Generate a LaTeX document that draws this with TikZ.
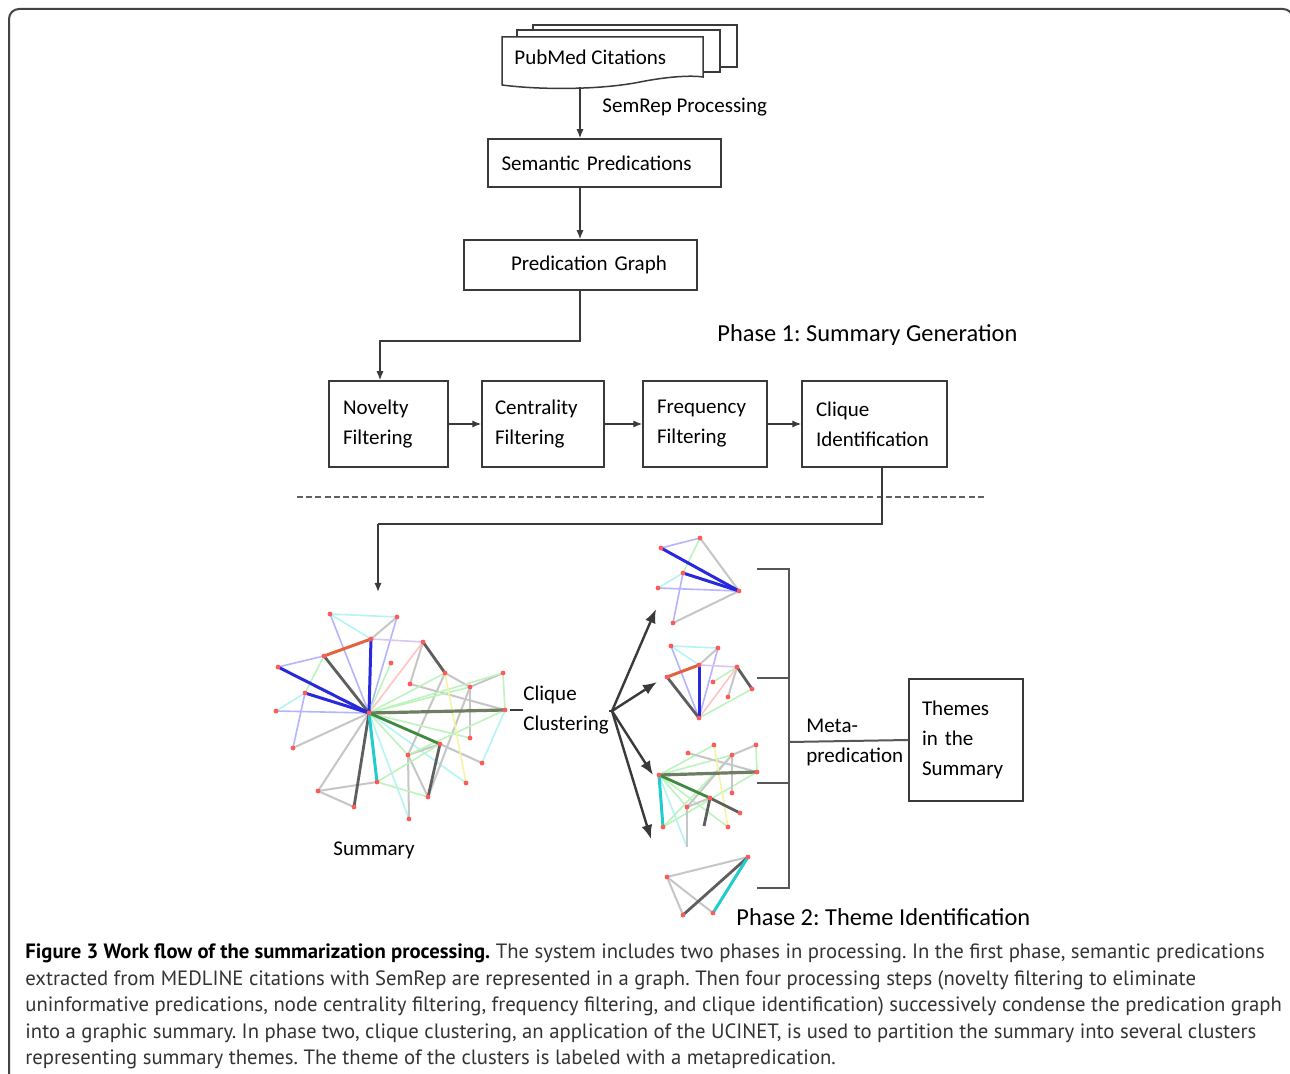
\documentclass[tikz,border=0pt]{standalone}
\usepackage{fontspec}
\setmainfont{Carlito}
\newfontfamily\capfont{PT Sans}
\usetikzlibrary{arrows.meta,calc}
\definecolor{linec}{HTML}{3A3A3A}
\definecolor{framec}{HTML}{444444}
\definecolor{cLB}{HTML}{B4B4FF}
\definecolor{cB}{HTML}{2828DC}
\definecolor{cLC}{HTML}{B4F4F4}
\definecolor{cC}{HTML}{22CCCC}
\definecolor{cLG}{HTML}{C6C6C6}
\definecolor{cG}{HTML}{5E5E5E}
\definecolor{cLGR}{HTML}{BCF4BC}
\definecolor{cGR}{HTML}{3F8A3F}
\definecolor{cOL}{HTML}{6E7E62}
\definecolor{cLR}{HTML}{FFC4C4}
\definecolor{cOR}{HTML}{E2643E}
\definecolor{cLP}{HTML}{DAC6F2}
\definecolor{cLY}{HTML}{F4F4A6}
\definecolor{cDot}{HTML}{FF5A5A}
\definecolor{capc}{HTML}{333333}
\newcommand\dgfont{\fontsize{10.5}{15}\selectfont}
\newcommand\phfont{\fontsize{12.2}{15}\selectfont}
\frenchspacing
\begin{document}
\begin{tikzpicture}[x=0.5pt,y=-0.5pt,
  box/.style={draw=linec, line width=0.75pt, rectangle, inner ysep=0pt, font=\dgfont, align=left},
  lbl/.style={inner sep=0pt, anchor=west, font=\dgfont, align=left},
  phase/.style={inner sep=0pt, anchor=west, font=\phfont},
  arr/.style={-{Latex[length=4.5pt,width=3.6pt]}, draw=linec, line width=0.7pt},
  plain/.style={draw=linec, line width=0.7pt},
  fanarr/.style={-{Latex[length=7pt,width=5.5pt]}, draw=linec, line width=1.2pt},
  brk/.style={draw=framec!90, line width=1pt},
  edLB/.style={draw=cLB, line width=0.8pt},
  edB/.style={draw=cB, line width=1.5pt},
  edLC/.style={draw=cLC, line width=0.8pt},
  edC/.style={draw=cC, line width=1.5pt},
  edLG/.style={draw=cLG, line width=1pt},
  edG/.style={draw=cG, line width=1.4pt},
  edLGR/.style={draw=cLGR, line width=0.8pt},
  edGR/.style={draw=cGR, line width=1.4pt},
  edOL/.style={draw=cOL, line width=1.6pt},
  edLR/.style={draw=cLR, line width=0.8pt},
  edOR/.style={draw=cOR, line width=1.5pt},
  edLP/.style={draw=cLP, line width=0.8pt},
  edLY/.style={draw=cLY, line width=0.8pt},
  dot/.style={fill=cDot},
  capline/.style={inner sep=0pt, anchor=west, font=\capfont\fontsize{10.35}{12}\selectfont, text=capc}
]
\useasboundingbox (0,0) rectangle (1290,1074);
\clip (0,0) rectangle (1290,1074);
\fill[white] (0,0) rectangle (1290,1074);
% outer frame
\draw[draw=framec, line width=1pt, rounded corners=5pt] (9,1100) -- (9,9) -- (1293,9) -- (1293,1100);

% ---------- document stack ----------
\draw[linec, line width=0.75pt, fill=white] (533,25) -- (737,25) -- (737,67) -- (533,67) -- cycle;
\draw[linec, line width=0.75pt, fill=white] (517,30) -- (720,30) -- (720,72) -- (517,72) -- cycle;
\draw[linec, line width=0.75pt, fill=white] (502,37) -- (703,37) -- (703,77)
   .. controls (690,75) and (665,77) .. (640,82)
   .. controls (600,90) and (540,90) .. (502,85) -- cycle;
\node[lbl] (pub) at (514,57) {PubMed Citations};

\coordinate (spine) at (580,0);
\coordinate (pubb) at (580,87);
\node[lbl] (semrep) at (602,107) {SemRep Processing};

\node[box, minimum width=116.5pt, minimum height=24pt, text width=103pt, inner xsep=6.75pt] (sem) at (604.5,163) {Semantic Predications};
\node[box, minimum width=116.5pt, minimum height=25pt, text width=92.5pt, inner xsep=12pt] (pg) at (580.5,265) {\hspace*{11.5pt}Predication Graph};

\draw[arr] (pubb) -- (sem.north -| spine);
\draw[arr] (sem.south -| spine) -- (pg.north -| spine);

\node[phase] (ph1) at (717,335) {Phase 1: Summary Generation};

% ---------- phase 1 boxes ----------
\node[box, minimum width=59.5pt, minimum height=43pt, text width=45.5pt, inner xsep=7pt] (nov) at (388.5,424) {Novelty\\Filtering};
\node[box, minimum width=61pt, minimum height=43pt, text width=48pt, inner xsep=6.5pt] (cen) at (543,424) {Centrality\\Filtering};
\node[box, minimum width=62pt, minimum height=43pt, text width=48pt, inner xsep=7pt] (fre) at (705,424) {Frequency\\Filtering};
\node[box, minimum width=72.5pt, minimum height=43pt, text width=58.5pt, inner xsep=7pt] (cli) at (874.5,424) {Clique\\Identification};

\coordinate (k1) at (380,341);
\draw[arr] (pg.south -| spine) |- (k1) -- (nov.north -| k1);
\draw[arr] (nov) -- (cen);
\draw[arr] (cen) -- (fre);
\draw[arr] (fre) -- (cli);

% dashed separator
\coordinate (ds1) at (297,497);
\coordinate (ds2) at (985,497);
\draw[draw=linec!80, line width=0.7pt, dash pattern=on 3pt off 1.6pt] (ds1) -- (ds2);

\coordinate (k2) at (882,524);
\coordinate (k3) at (378,524);
\coordinate (sumtop) at (378,592);
\draw[plain] (cli.south -| k2) -- (k2) -- (k3);
\draw[arr] (k3) -- (sumtop);

% ---------- summary graph ----------
\coordinate (C) at (369,713);
\coordinate (s1) at (330,614);
\coordinate (s2) at (397,617);
\coordinate (s3) at (371,639);
\coordinate (s4) at (423,642);
\coordinate (s5) at (324,656);
\coordinate (s6) at (391,663);
\coordinate (s7) at (278,667);
\coordinate (s8) at (445,673);
\coordinate (s9) at (503,673);
\coordinate (s10) at (410,684);
\coordinate (s11) at (470,687);
\coordinate (s12) at (305,693);
\coordinate (s13) at (276,711);
\coordinate (s14) at (505,710);
\coordinate (s15) at (470,738);
\coordinate (s16) at (440,744);
\coordinate (s17) at (293,748);
\coordinate (s18) at (408,755);
\coordinate (s19) at (482,763);
\coordinate (s20) at (377,782);
\coordinate (s21) at (466,783);
\coordinate (s22) at (318,791);
\coordinate (s23) at (428,797);
\coordinate (s24) at (354,807);
\coordinate (s25) at (409,819);

\foreach \a/\b in {s1/s2,s1/s3,s12/s13,C/s25,C/s21,s14/s19,C/s19} \draw[edLC] (\a) -- (\b);
\foreach \a/\b in {s1/C,s2/C,s5/s7,s12/s17,s13/C} \draw[edLB] (\a) -- (\b);
\foreach \a/\b in {s2/s3,s17/C,s4/s10,s8/s11,s8/s18,s9/s11,s10/s14,s11/s15,s11/s23,s16/s18,C/s22,s22/s20,s22/s24,s18/s23,s18/s25,s16/s19} \draw[edLG] (\a) -- (\b);
\foreach \a/\b in {s5/s12,s6/C,s8/C,s11/C,s9/s14,C/s15,s20/s23,s20/s16,s14/s18,s9/C,C/s18} \draw[edLGR] (\a) -- (\b);
\draw[edLP] (s3) -- (s4);
\draw[edLR] (s4) -- (C);
\draw[edLY] (s8) -- (s21);
\foreach \a/\b in {s5/C,s4/s8,s16/s23,C/s24} \draw[edG] (\a) -- (\b);
\draw[edOL] (C) -- (s14);
\draw[edGR] (C) -- (s16);
\draw[edC] (C) -- (s20);
\foreach \a/\b in {s3/C,s7/C,s12/C} \draw[edB] (\a) -- (\b);
\draw[edOR] (s5) -- (s3);
\foreach \n in {C,s1,s2,s3,s4,s5,s6,s7,s8,s9,s10,s11,s12,s13,s14,s15,s16,s17,s18,s19,s20,s21,s22,s23,s24,s25} \fill[dot] (\n) circle (1.2pt);

\node[lbl] (summ) at (333,850) {Summary};

% ---------- clique clustering ----------
\node[lbl] (ccl) at (523,710) {Clique\\Clustering};
\draw[draw=linec, line width=1.2pt] (s14) ++(5,0) coordinate (s14r) -- (ccl.west);
\coordinate (fan) at (612,711);
\draw[draw=linec, line width=1.2pt] (ccl.east |- fan) -- (fan);
\coordinate (t1) at (656,609);
\coordinate (t2) at (657,682);
\coordinate (t3) at (653,775);
\coordinate (t4) at (651,839);
\foreach \t in {t1,t2,t3,t4} \draw[fanarr] (fan) -- (\t);

% ---------- cluster 1 ----------
\coordinate (a1) at (700,538);
\coordinate (a2) at (661,548);
\coordinate (a3) at (683,573);
\coordinate (a4) at (658,588);
\coordinate (a5) at (739,591);
\coordinate (a6) at (673,623);
\foreach \a/\b in {a2/a1,a4/a5,a3/a6} \draw[edLB] (\a) -- (\b);
\draw[edLC] (a3) -- (a4);
\foreach \a/\b in {a1/a5,a6/a5} \draw[edLG] (\a) -- (\b);
\draw[edLGR] (a1) -- (a3);
\foreach \a/\b in {a2/a5,a3/a5} \draw[edB] (\a) -- (\b);
\foreach \n in {a1,a2,a3,a4,a5,a6} \fill[dot] (\n) circle (1.2pt);

% ---------- cluster 2 ----------
\coordinate (p1) at (671,646);
\coordinate (p2) at (718,648);
\coordinate (p3) at (699,665);
\coordinate (p4) at (737,667);
\coordinate (p5) at (667,677);
\coordinate (p6) at (713,682);
\coordinate (p7) at (728,697);
\coordinate (p8) at (752,689);
\coordinate (p9) at (699,718);
\foreach \a/\b in {p1/p2,p1/p3} \draw[edLC] (\a) -- (\b);
\foreach \a/\b in {p1/p9,p2/p9} \draw[edLB] (\a) -- (\b);
\foreach \a/\b in {p2/p3,p4/p7} \draw[edLG] (\a) -- (\b);
\draw[edLP] (p3) -- (p4);
\draw[edLR] (p4) -- (p9);
\foreach \a/\b in {p9/p8,p4/p6} \draw[edLGR] (\a) -- (\b);
\foreach \a/\b in {p5/p9,p4/p8} \draw[edG] (\a) -- (\b);
\draw[edB] (p3) -- (p9);
\draw[edOR] (p5) -- (p3);
\foreach \n in {p1,p2,p3,p4,p5,p6,p7,p8,p9} \fill[dot] (\n) circle (1.2pt);

% ---------- cluster 3 ----------
\coordinate (q1) at (714,745);
\coordinate (q2) at (756,745);
\coordinate (q3) at (688,753);
\coordinate (q4) at (732,755);
\coordinate (q5) at (659,775);
\coordinate (q6) at (757,772);
\coordinate (q7) at (732,793);
\coordinate (q8) at (710,798);
\coordinate (q9) at (687,807);
\coordinate (q10) at (740,813);
\coordinate (q11) at (663,827);
\coordinate (q12) at (728,827);
\coordinate (q13) at (687,847);
\coordinate (q14) at (704,826);
\foreach \a/\b in {q5/q1,q5/q4,q2/q6,q11/q6,q5/q9,q5/q12,q11/q4} \draw[edLGR] (\a) -- (\b);
\draw[edLC] (q5) -- (q13);
\foreach \a/\b in {q3/q6,q4/q2,q4/q7,q4/q9,q9/q13,q9/q8} \draw[edLG] (\a) -- (\b);
\draw[edLY] (q1) -- (q12);
\foreach \a/\b in {q8/q10,q8/q14} \draw[edG] (\a) -- (\b);
\draw[edOL] (q5) -- (q6);
\draw[edGR] (q5) -- (q8);
\draw[edC] (q5) -- (q11);
\foreach \n in {q1,q2,q3,q4,q5,q6,q7,q8,q9,q10,q11,q12} \fill[dot] (\n) circle (1.2pt);

% ---------- cluster 4 ----------
\coordinate (r1) at (748,857);
\coordinate (r2) at (667,877);
\coordinate (r3) at (683,915);
\coordinate (r4) at (713,913);
\foreach \a/\b in {r2/r1,r2/r3,r2/r4} \draw[edLG] (\a) -- (\b);
\draw[edG] (r3) -- (r1);
\draw[edC] (r4) -- (r1);
\foreach \n in {r1,r2,r3,r4} \fill[dot] (\n) circle (1.2pt);

% ---------- bracket and themes ----------
\coordinate (b1) at (757,569);
\coordinate (b2) at (757,678);
\coordinate (b3) at (757,783);
\coordinate (b4) at (757,888);
\coordinate (bx) at (789,0);
\coordinate (bm) at (789,742);
\draw[brk] (b1) -- (b1 -| bx) -- (b4 -| bx) -- (b4);
\draw[brk] (b2) -- (b2 -| bx);
\draw[brk] (b3) -- (b3 -| bx);
\node[box, minimum width=57pt, minimum height=61pt, text width=44pt, inner xsep=6.5pt] (thm) at (966,740) {Themes\\in the\\Summary};
\draw[brk] (bm) -- (thm.west);
\node[lbl] (meta) at (806,742) {Meta-\\predication};

\node[phase] (ph2) at (736,917) {Phase 2: Theme Identification};

% ---------- caption ----------
\node[capline] (cap1) at (25,953) {\textbf{\color{black}Figure 3 Work flow of the summarization processing.} The system includes two phases in processing. In the first phase, semantic predications};
\node[capline] (cap2) at (25,980) {extracted from MEDLINE citations with SemRep are represented in a graph. Then four processing steps (novelty filtering to eliminate};
\node[capline] (cap3) at (25,1006) {uninformative predications, node centrality filtering, frequency filtering, and clique identification) successively condense the predication graph};
\node[capline] (cap4) at (25,1033) {into a graphic summary. In phase two, clique clustering, an application of the UCINET, is used to partition the summary into several clusters};
\node[capline] (cap5) at (25,1059) {representing summary themes. The theme of the clusters is labeled with a metapredication.};
\end{tikzpicture}
\end{document}
